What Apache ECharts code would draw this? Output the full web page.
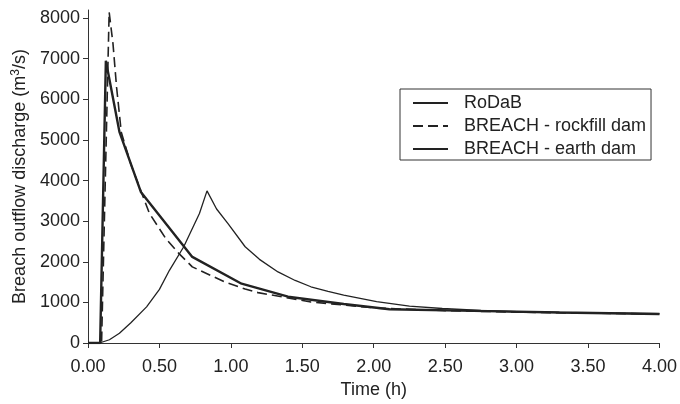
<!DOCTYPE html>
<html>
<head>
<meta charset="utf-8">
<script src="https://cdn.jsdelivr.net/npm/echarts@6/dist/echarts.min.js"></script>
<style>
  html, body { margin: 0; padding: 0; background: #fff; }
  #chart { width: 680px; height: 404px; }
</style>
</head>
<body>
<div id="chart"></div>
<script>
// values (time in h, discharge in m3/s)
const rodabT = [0, 0.08, 0.15, 0.22, 0.30, 0.41, 0.50, 0.57, 0.67, 0.78, 0.833, 0.90, 0.98, 1.10, 1.20, 1.33, 1.45, 1.56, 1.68, 1.79, 2.02, 2.25, 2.48, 2.75, 3.0, 3.5, 4.0];
const rodabQ = [0, 0, 80, 240, 500, 890, 1320, 1790, 2370, 3190, 3745, 3300, 2940, 2370, 2060, 1750, 1540, 1385, 1270, 1180, 1020, 910, 850, 800, 770, 740, 720];

const rockT = [0, 0.095, 0.148, 0.175, 0.20, 0.233, 0.30, 0.36, 0.43, 0.545, 0.637, 0.73, 0.96, 1.10, 1.19, 1.56, 2.02, 2.48, 3.0, 3.5, 4.0];
const rockQ = [0, 0, 8150, 7365, 6300, 5190, 4400, 3840, 3190, 2570, 2200, 1875, 1500, 1330, 1240, 1010, 860, 800, 760, 735, 715];

const earthT = [0, 0.085, 0.125, 0.22, 0.37, 0.73, 1.075, 1.40, 1.79, 2.11, 2.7, 3.3, 4.0];
const earthQ = [0, 0, 6950, 5200, 3720, 2120, 1460, 1140, 960, 830, 790, 750, 715];

const yTicks = [0, 1000, 2000, 3000, 4000, 5000, 6000, 7000, 8000];

const zip = (a, b) => a.map((v, i) => [v, b[i]]);
const ink = "#222";
const font = "Liberation Sans";
const fs = 18;

const chart = echarts.init(document.getElementById("chart"));
chart.setOption({
  animation: false,
  grid: { left: 88, right: 14, top: 10, bottom: 61 },
  legend: {
    left: 400,
    top: 89,
    orient: "vertical",
    itemWidth: 35,
    itemHeight: 14,
    itemGap: 5,
    padding: [5, 5, 2, 12],
    borderColor: "#333",
    borderWidth: 1,
    itemStyle: { opacity: 0 },
    textStyle: { fontFamily: font, fontSize: fs, color: ink, padding: [0, 0, 0, 11] },
    data: ["RoDaB", "BREACH - rockfill dam", "BREACH - earth dam"],
  },
  xAxis: {
    type: "value",
    min: 0,
    max: 4,
    interval: 0.5,
    name: "Time (h)",
    nameLocation: "middle",
    nameGap: 37,
    nameTextStyle: { fontFamily: font, fontSize: fs, color: ink },
    axisLine: { lineStyle: { color: "#333", width: 1 } },
    axisTick: { length: 5, lineStyle: { color: "#333" } },
    axisLabel: {
      fontFamily: font, fontSize: fs, color: ink, margin: 15,
      formatter: (v) => v.toFixed(2),
    },
    splitLine: { show: false },
  },
  yAxis: {
    type: "value",
    min: 0,
    max: 8200,
    name: "Breach outflow discharge (m{sup|3}/s)",
    nameLocation: "middle",
    nameGap: 56,
    nameTextStyle: {
      fontFamily: font, fontSize: fs, color: ink,
      rich: { sup: { fontFamily: font, fontSize: 12, color: ink, verticalAlign: "top", padding: [0, 0, 9, 0] } },
    },
    axisLine: { show: true, lineStyle: { color: "#333", width: 1 } },
    axisTick: { show: true, length: 5, customValues: yTicks, lineStyle: { color: "#333" } },
    axisLabel: {
      fontFamily: font, fontSize: fs, color: ink, margin: 8, customValues: yTicks,
      formatter: (v) => String(v),
    },
    splitLine: { show: false },
  },
  series: [
    {
      name: "RoDaB",
      type: "line",
      symbol: "none",
      data: zip(rodabT, rodabQ),
      lineStyle: { color: ink, width: 1.3 },
      itemStyle: { color: ink },
    },
    {
      name: "BREACH - rockfill dam",
      type: "line",
      symbol: "none",
      data: zip(rockT, rockQ),
      lineStyle: { color: ink, width: 1.6, type: [10, 5] },
      itemStyle: { color: ink },
    },
    {
      name: "BREACH - earth dam",
      type: "line",
      symbol: "none",
      data: zip(earthT, earthQ),
      lineStyle: { color: ink, width: 2.4 },
      itemStyle: { color: ink },
    },
  ],
});
</script>
</body>
</html>
